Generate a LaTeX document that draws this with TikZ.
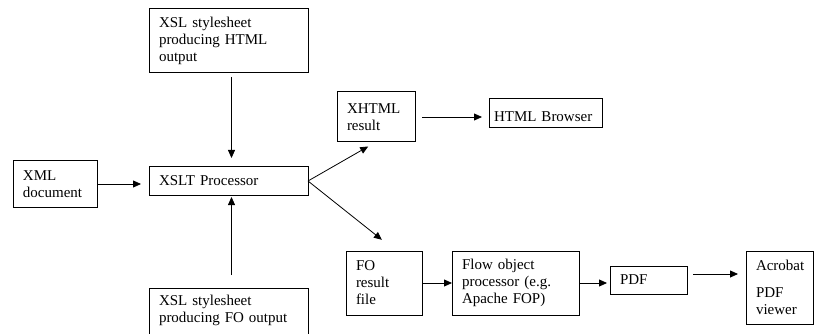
\documentclass[tikz,border=0pt]{standalone}
\usepackage{fontspec}
\setmainfont{Liberation Serif}
\usetikzlibrary{arrows.meta, calc}
\definecolor{mydark}{RGB}{0, 0, 0}

\begin{document}
\begin{tikzpicture}[x=1pt, y=-1pt, font=\fontsize{15}{17}\selectfont]
\tikzset{box/.style={draw=mydark, line width=1pt, anchor=north west, align=left,
    inner xsep=10pt, inner ysep=0pt, outer sep=0pt}}
\tikzset{arr/.style={mydark, line width=0.8pt, -{Triangle[length=8pt, width=7pt]}}}

\useasboundingbox (0, 0) rectangle (814, 334);
\clip (0, 0) rectangle (814, 334);

% input side
\node[box, text width=64, minimum height=46] (xml) at (13, 161) {XML\\document};
\node[box, text width=139, minimum height=64] (htmlsheet) at (149, 9) {XSL stylesheet\\producing HTML\\output};
\node[box, text width=139, minimum height=28] (xslt) at (149, 167) {XSLT Processor};
\node[box, text width=139, minimum height=64] (fosheet) at (149, 288) {XSL stylesheet\\producing FO output\\\strut};

% html branch
\node[box, text width=58, minimum height=50] (xhtml) at (337, 92) {XHTML\\result};
\node[box, text width=103, inner xsep=5pt, minimum height=29] (browser) at (489, 99) {\hspace{5pt}\mbox{HTML Browser}};

% fo branch
\node[box, text width=56, minimum height=64] (foresult) at (346, 251) {FO\\result\\file};
\node[box, text width=107, minimum height=64] (fop) at (452, 251) {Flow object\\processor (e.g.\\Apache FOP)};
\node[box, text width=57, minimum height=28] (pdf) at (610, 266) {PDF};
\node[box, text width=47, minimum height=73] (acrobat) at (746, 251) {Acrobat\\[10pt]PDF\\viewer};

\draw[arr, shorten <=4pt, shorten >=9pt] ([xshift=3pt]htmlsheet.south) -- ([xshift=3pt]xslt.north);
\draw[arr, shorten <=13pt, shorten >=2pt] ([xshift=3pt]fosheet.north) -- ([xshift=3pt]xslt.south);
\draw[arr, shorten >=8pt] (xml.east) -- (xml.east -| xslt.west);

\draw[arr, shorten >=9pt] (xslt.east) -- (xhtml.south);
\draw[arr, shorten >=18pt] (xslt.east) -- ([xshift=12pt]foresult.north);

\draw[arr, shorten <=7pt, shorten >=7pt] (xhtml.east) -- (xhtml.east -| browser.west);
\draw[arr] (foresult.east) -- (fop.west);
\draw[arr, shorten >=3pt] (fop.east) -- (fop.east -| pdf.west);
\draw[arr, shorten <=6pt, shorten >=8pt] ([yshift=6pt]pdf.east) -- ([yshift=6pt]pdf.east -| acrobat.west);
\end{tikzpicture}
\end{document}
